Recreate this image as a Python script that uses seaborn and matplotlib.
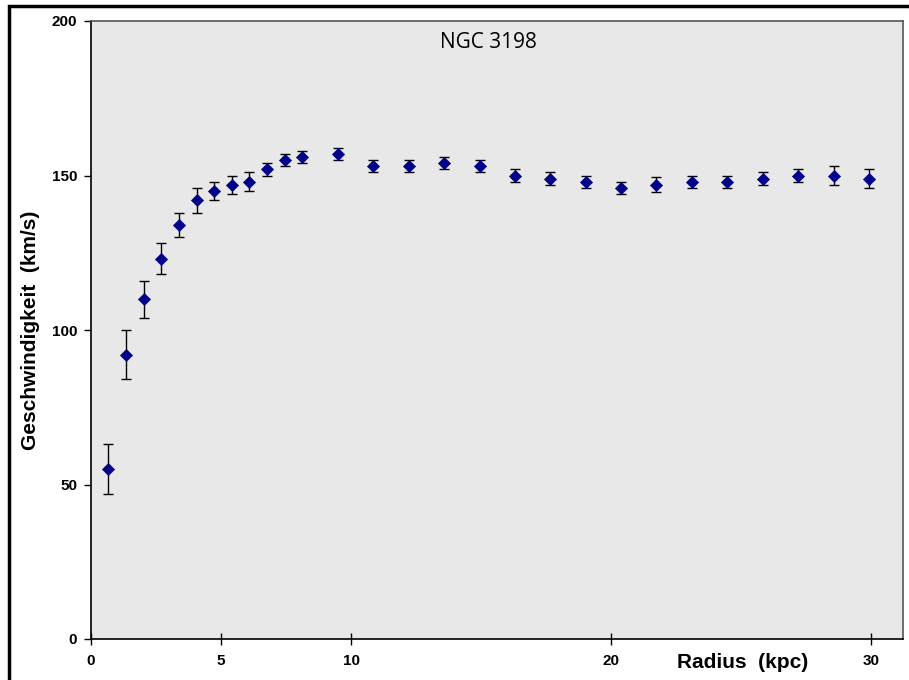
import matplotlib
matplotlib.use("Agg")
import matplotlib.pyplot as plt
import matplotlib.patches as mpatches
import seaborn as sns
import pandas as pd

radius = [0.65, 1.35, 2.04, 2.69, 3.38, 4.08, 4.73, 5.42, 6.08, 6.77, 7.46, 8.12,
          9.5, 10.85, 12.23, 13.58, 14.96, 16.3, 17.65, 19.04, 20.38, 21.73,
          23.12, 24.46, 25.85, 27.19, 28.58, 29.92]
velocity = [55, 92, 110, 123, 134, 142, 145, 147, 148, 152, 155, 156,
            157, 153, 153, 154, 153, 150, 149, 148, 146, 147,
            148, 148, 149, 150, 150, 149]
error = [8, 8, 6, 5, 4, 4, 3, 3, 3, 2, 2, 2,
         2, 2, 2, 2, 2, 2, 2, 2, 2, 2.5,
         2, 2, 2, 2, 3, 3]
x_ticks = [0, 5, 10, 20, 30]
y_ticks = [0, 50, 100, 150, 200]
title = "NGC 3198"
x_label = "Radius  (kpc)"
y_label = "Geschwindigkeit  (km/s)"

df = pd.DataFrame({"radius": radius, "velocity": velocity, "error": error})

sns.set_style("white", {"xtick.bottom": True, "ytick.left": True,
                        "text.color": "black", "axes.labelcolor": "black",
                        "xtick.color": "black", "ytick.color": "black"})
plt.rcParams["font.family"] = ["Liberation Sans", "DejaVu Sans"]

fig = plt.figure(figsize=(9.09, 6.80), dpi=100)
ax = fig.add_axes([91/909, 1-639/680, (903-91)/909, (639-21)/680])
ax.set_facecolor("#e8e8e8")

ax.errorbar(df["radius"], df["velocity"], yerr=df["error"], fmt="none",
            ecolor="black", elinewidth=1.0, capsize=3.5, capthick=1.0, zorder=2)
sns.scatterplot(data=df, x="radius", y="velocity", marker="D", s=38,
                color="#00008b", edgecolor="#00008b", linewidth=0.5, ax=ax, zorder=3)

ax.set_xlim(0, 31.23)
ax.set_ylim(0, 200)
ax.set_xticks(x_ticks)
ax.set_yticks(y_ticks)
ax.set_xticklabels([str(t) for t in x_ticks], fontsize=11, fontweight="bold", color="black")
ax.set_yticklabels([str(t) for t in y_ticks], fontsize=11, fontweight="bold", color="black")
ax.tick_params(axis="x", bottom=True, direction="inout", length=9, width=1, pad=6, colors="black")
ax.tick_params(axis="y", left=True, direction="out", length=5, width=1, pad=5, colors="black")
ax.set_xlabel("")
ax.set_ylabel("")

for side in ["left", "bottom"]:
    ax.spines[side].set_color("black")
    ax.spines[side].set_linewidth(1.2)
for side in ["top", "right"]:
    ax.spines[side].set_color("#555555")
    ax.spines[side].set_linewidth(1.2)
    ax.spines[side].set_visible(True)

fig.text(488/909, 1-42/680, title, ha="center", va="center", color="black",
         fontsize=15, family=["Open Sans", "DejaVu Sans"])
fig.text(743/909, 1-662/680, x_label, ha="center", va="center", color="black",
         fontsize=15, fontweight="bold")
fig.text(31/909, 1-330/680, y_label, ha="center", va="center", rotation=90,
         color="black", fontsize=15, fontweight="bold")

frame = mpatches.Rectangle((9/909, -0.1), 2.0, 1.1 - 6/680,
                           transform=fig.transFigure, fill=False,
                           edgecolor="black", linewidth=2.5, clip_on=False)
fig.patches.append(frame)

fig.savefig("out.png", dpi=100)
